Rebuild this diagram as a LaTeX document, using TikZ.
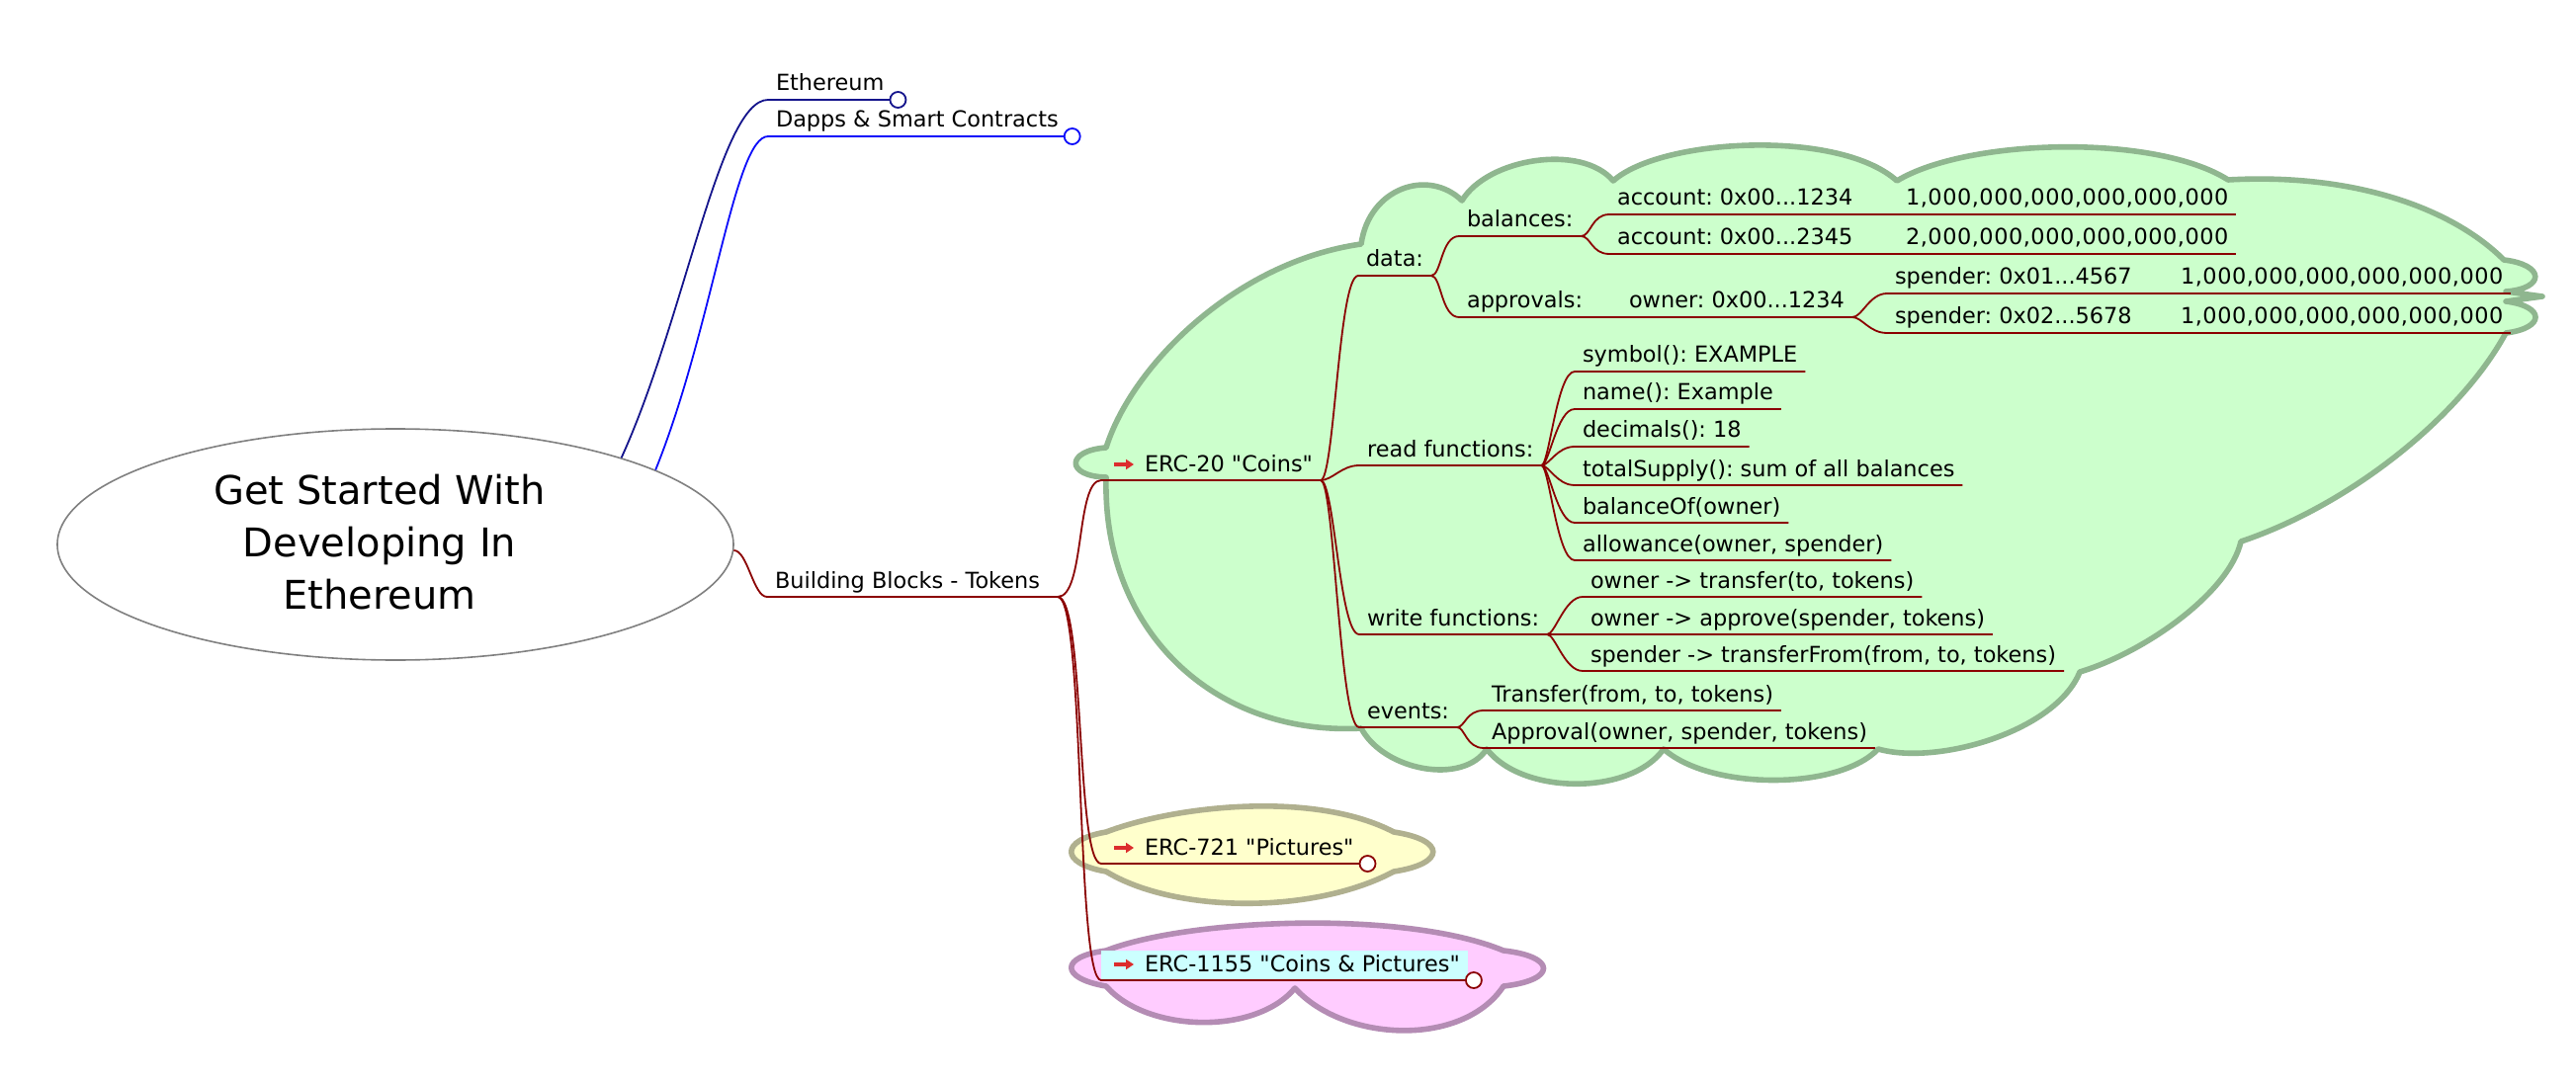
\documentclass[tikz,border=0pt]{standalone}
\usepackage{fontspec}
\setmainfont{DejaVu Sans}[Ligatures=TeXOff]
\frenchspacing
\usetikzlibrary{shapes.geometric,arrows.meta}

\definecolor{linkred}{RGB}{139,0,0}
\definecolor{navyline}{RGB}{20,20,140}
\definecolor{blueline}{RGB}{10,10,250}
\definecolor{greenfill}{RGB}{204,255,204}
\definecolor{greenline}{RGB}{143,182,143}
\definecolor{yellowfill}{RGB}{255,255,204}
\definecolor{yellowline}{RGB}{176,176,143}
\definecolor{pinkfill}{RGB}{255,204,255}
\definecolor{pinkline}{RGB}{180,140,180}
\definecolor{hlcyan}{RGB}{204,255,255}
\definecolor{iconred}{RGB}{220,45,45}
\definecolor{rootgray}{RGB}{128,128,128}

\begin{document}
\begin{tikzpicture}[x=0.5pt,y=-0.5pt]

    % Styles
    \tikzstyle{root} = [ellipse, draw=rootgray, fill=white, line width=0.8pt, minimum width=342pt, minimum height=117pt, inner sep=0pt]
    \tikzstyle{title} = [align=center, inner sep=0pt, font=\fontsize{20pt}{26.5pt}\selectfont]
    \tikzstyle{topic} = [anchor=base west, inner xsep=4pt, inner ysep=2pt, outer sep=0pt, text height=8.5pt, text depth=2.5pt, font=\fontsize{11.2pt}{13pt}\selectfont]
    \tikzstyle{amount} = [topic, font=\fontsize{11.2pt}{13pt}\selectfont\addfontfeature{LetterSpace=2.4}]
    \tikzstyle{link} = [line width=0.9pt, draw=linkred]
    \tikzstyle{fold} = [line width=0.9pt, fill=white]
    \tikzstyle{icon} = [->, >={Triangle[length=4pt,width=5pt]}, line width=1.7pt, iconred]
    \tikzstyle{bubble} = [line width=2.8pt, line join=round]

    \useasboundingbox[fill=white] (0,0) rectangle (2606,1096);

    % Nuages
    \filldraw[bubble, draw=greenline, fill=greenfill]
        (1119,453) .. controls (1145,370) and (1250,265) .. (1377,247)
        .. controls (1385,190) and (1445,170) .. (1479,203)
        .. controls (1505,160) and (1600,145) .. (1632,183)
        .. controls (1680,140) and (1860,130) .. (1919,183)
        .. controls (1990,140) and (2180,135) .. (2254,182)
        .. controls (2380,175) and (2480,210) .. (2533,263)
        .. controls (2575,268) and (2575,292) .. (2535,295)
        -- (2572,300) -- (2535,305)
        .. controls (2575,310) and (2575,332) .. (2535,337)
        .. controls (2490,420) and (2380,510) .. (2267,548)
        .. controls (2255,600) and (2170,660) .. (2104,680)
        .. controls (2080,740) and (1960,775) .. (1900,758)
        .. controls (1860,800) and (1730,800) .. (1683,758)
        .. controls (1650,805) and (1540,805) .. (1504,758)
        .. controls (1480,795) and (1400,780) .. (1377,737)
        .. controls (1230,745) and (1115,640) .. (1119,483)
        .. controls (1078,482) and (1078,456) .. cycle;
    \filldraw[bubble, draw=yellowline, fill=yellowfill]
        (1119,842) .. controls (1190,815) and (1330,800) .. (1410,842)
        .. controls (1463,850) and (1463,874) .. (1410,882)
        .. controls (1330,925) and (1190,925) .. (1119,882)
        .. controls (1072,874) and (1072,850) .. cycle;
    \filldraw[bubble, draw=pinkline, fill=pinkfill]
        (1119,962) .. controls (1200,930) and (1420,920) .. (1521,962)
        .. controls (1575,968) and (1575,992) .. (1521,998)
        .. controls (1480,1060) and (1360,1055) .. (1310,1000)
        .. controls (1270,1048) and (1160,1045) .. (1119,998)
        .. controls (1072,990) and (1072,968) .. cycle;

    % Noeuds
    \node (root) [root] at (400,551) {};
    \node (title) [title] at (384,549) {Get Started With\\Developing In\\Ethereum};
    \node (eth) [topic] at (777,92) {Ethereum};
    \node (dapps) [topic] at (777,129) {Dapps \& Smart Contracts};
    \node (blocks) [topic] at (776,595) {Building Blocks - Tokens\hspace*{5pt}};

    \node (erc20) [topic] at (1114,477) {\hspace*{18pt}ERC-20 "Coins"};
    \node (erc721) [topic] at (1114,865) {\hspace*{18pt}ERC-721 "Pictures"};
    \node (erc1155) [topic, fill=hlcyan] at (1114,983) {\hspace*{18pt}ERC-1155 "Coins \& Pictures"};

    \node (data) [topic] at (1374,270) {data:};
    \node (balances) [topic] at (1476,230) {balances:};
    \node (account1) [topic] at (1628,208) {account: 0x00...1234};
    \node (val1) [amount] at (1920,208) {1,000,000,000,000,000,000};
    \node (account2) [topic] at (1628,248) {account: 0x00...2345};
    \node (val2) [amount] at (1920,248) {2,000,000,000,000,000,000};
    \node (approvals) [topic] at (1476,312) {approvals:};
    \node (owner) [topic] at (1640,312) {owner: 0x00...1234};
    \node (spender1) [topic] at (1909,288) {spender: 0x01...4567};
    \node (val3) [amount] at (2198,288) {1,000,000,000,000,000,000};
    \node (spender2) [topic] at (1909,328) {spender: 0x02...5678};
    \node (val4) [amount] at (2198,328) {1,000,000,000,000,000,000};

    \node (readf) [topic] at (1375,462) {read functions:};
    \node (symbol) [topic] at (1593,367) {symbol(): EXAMPLE};
    \node (name) [topic] at (1593,405) {name(): Example};
    \node (decimals) [topic] at (1593,443) {decimals(): 18};
    \node (supply) [topic] at (1593,482) {totalSupply(): sum of all balances};
    \node (balanceof) [topic] at (1593,520) {balanceOf(owner)};
    \node (allowance) [topic] at (1593,558) {allowance(owner, spender)};

    \node (writef) [topic] at (1375,633) {write functions:};
    \node (transfer) [topic] at (1601,595) {owner -> transfer(to, tokens)};
    \node (approve) [topic] at (1601,633) {owner -> approve(spender, tokens)};
    \node (transferfrom) [topic] at (1601,670) {spender -> transferFrom(from, to, tokens)};

    \node (events) [topic] at (1375,727) {events:};
    \node (evtransfer) [topic] at (1501,710) {Transfer(from, to, tokens)};
    \node (evapproval) [topic] at (1501,748) {Approval(owner, spender, tokens)};

    % Branches
    \draw [link, draw=navyline] (root.21) .. controls +(64,-140) and +(-49,0) .. (eth.south west) -- (eth.south east);
    \draw [link, draw=blueline] (root.16) .. controls +(58,-144) and +(-34,0) .. (dapps.south west) -- (dapps.south east);
    \draw [link] (root.-1) .. controls +(14,0) and +(-14,0) .. (blocks.south west) -- (blocks.south east);

    \draw [link] (blocks.south east) .. controls +(28,0) and +(-26,0) .. (erc20.south west) -- (erc20.south east);
    \draw [link] (blocks.south east) .. controls +(28,0) and +(-26,0) .. (erc721.south west) -- (erc721.south east);
    \draw [link] (blocks.south east) .. controls +(28,0) and +(-26,0) .. (erc1155.south west) -- (erc1155.south east);

    \draw [link] (erc20.south east) .. controls +(14,0) and +(-20,0) .. (data.south west) -- (data.south east);
    \draw [link] (erc20.south east) .. controls +(12,0) and +(-18,0) .. (readf.south west) -- (readf.south east);
    \draw [link] (erc20.south east) .. controls +(14,0) and +(-20,0) .. (writef.south west) -- (writef.south east);
    \draw [link] (erc20.south east) .. controls +(14,0) and +(-20,0) .. (events.south west) -- (events.south east);

    \draw [link] (data.south east) .. controls +(10,0) and +(-18,0) .. (balances.south west) -- (balances.south east);
    \draw [link] (data.south east) .. controls +(10,0) and +(-18,0) .. (approvals.south west) -- (approvals.south east);
    \draw [link] (balances.south east) .. controls +(10,0) and +(-18,0) .. (account1.south west) -- (account1.south east);
    \draw [link] (balances.south east) .. controls +(10,0) and +(-18,0) .. (account2.south west) -- (account2.south east);
    \draw [link] (account1.south east) -- (val1.south west) -- (val1.south east);
    \draw [link] (account2.south east) -- (val2.south west) -- (val2.south east);
    \draw [link] (approvals.south east) -- (owner.south west) -- (owner.south east);
    \draw [link] (owner.south east) .. controls +(10,0) and +(-18,0) .. (spender1.south west) -- (spender1.south east);
    \draw [link] (owner.south east) .. controls +(10,0) and +(-18,0) .. (spender2.south west) -- (spender2.south east);
    \draw [link] (spender1.south east) -- (val3.south west) -- (val3.south east);
    \draw [link] (spender2.south east) -- (val4.south west) -- (val4.south east);

    \draw [link] (readf.south east) .. controls +(8,0) and +(-18,0) .. (symbol.south west) -- (symbol.south east);
    \draw [link] (readf.south east) .. controls +(8,0) and +(-18,0) .. (name.south west) -- (name.south east);
    \draw [link] (readf.south east) .. controls +(8,0) and +(-18,0) .. (decimals.south west) -- (decimals.south east);
    \draw [link] (readf.south east) .. controls +(8,0) and +(-18,0) .. (supply.south west) -- (supply.south east);
    \draw [link] (readf.south east) .. controls +(8,0) and +(-18,0) .. (balanceof.south west) -- (balanceof.south east);
    \draw [link] (readf.south east) .. controls +(8,0) and +(-18,0) .. (allowance.south west) -- (allowance.south east);

    \draw [link] (writef.south east) .. controls +(8,0) and +(-18,0) .. (transfer.south west) -- (transfer.south east);
    \draw [link] (writef.south east) -- (approve.south west) -- (approve.south east);
    \draw [link] (writef.south east) .. controls +(8,0) and +(-18,0) .. (transferfrom.south west) -- (transferfrom.south east);

    \draw [link] (events.south east) .. controls +(8,0) and +(-18,0) .. (evtransfer.south west) -- (evtransfer.south east);
    \draw [link] (events.south east) .. controls +(8,0) and +(-18,0) .. (evapproval.south west) -- (evapproval.south east);

    % Icones et cercles
    \draw [icon] ([shift={(13,-7)}]erc20.base west) -- ++(20,0);
    \draw [icon] ([shift={(13,-7)}]erc721.base west) -- ++(20,0);
    \draw [icon] ([shift={(13,-7)}]erc1155.base west) -- ++(20,0);

    \draw [fold, draw=navyline] ([xshift=3pt]eth.south east) circle (4pt);
    \draw [fold, draw=blueline] ([xshift=3pt]dapps.south east) circle (4pt);
    \draw [fold, draw=linkred] ([xshift=3pt]erc721.south east) circle (4pt);
    \draw [fold, draw=linkred] ([xshift=3pt]erc1155.south east) circle (4pt);

\end{tikzpicture}
\end{document}
